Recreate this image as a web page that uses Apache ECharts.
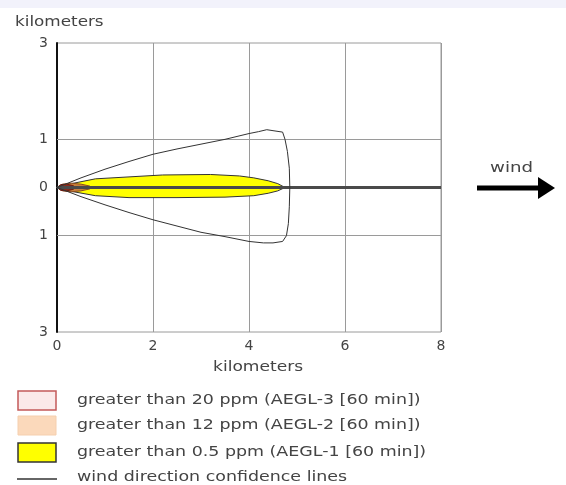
<!DOCTYPE html>
<html>
<head>
<meta charset="utf-8">
<script src="https://cdn.jsdelivr.net/npm/echarts@6/dist/echarts.min.js"></script>
<style>
html,body{margin:0;padding:0;background:#fff;}
#chart{width:566px;height:485px;}
</style>
</head>
<body>
<div id="chart"></div>
<script>
// ---- data (km) ----
var xTicks = [0, 2, 4, 6, 8];
var yTickLabels = {3: '3', 1: '1', 0: '0', '-1': '1', '-3': '3'};
var yGridValues = [1, -1];
var xAxisTitle = 'kilometers';
var yAxisTitle = 'kilometers';

// wind direction confidence lines (closed envelope)
var confidenceLine = [
  [0, 0], [0.5, 0.2], [1, 0.38], [1.5, 0.54], [2, 0.69], [2.5, 0.8], [3, 0.9],
  [3.5, 1.0], [4, 1.12], [4.2, 1.16], [4.37, 1.2], [4.5, 1.18], [4.7, 1.15],
  [4.75, 1.0], [4.8, 0.75], [4.84, 0.4], [4.85, 0], [4.84, -0.4], [4.82, -0.75],
  [4.78, -1.0], [4.7, -1.12], [4.5, -1.15], [4.3, -1.15], [4, -1.12],
  [3.5, -1.02], [3, -0.93], [2.5, -0.8], [2, -0.67], [1.5, -0.52],
  [1, -0.36], [0.5, -0.19], [0, 0]
];

// AEGL-1 zone (> 0.5 ppm)
var aegl1Zone = [
  [0, 0], [0.3, 0.08], [0.8, 0.18], [1.5, 0.22], [2.2, 0.26], [3.2, 0.27],
  [3.8, 0.24], [4.1, 0.2], [4.4, 0.14], [4.6, 0.08], [4.75, 0],
  [4.6, -0.07], [4.4, -0.12], [4.1, -0.17], [3.5, -0.2], [2.5, -0.21],
  [1.5, -0.21], [0.8, -0.17], [0.3, -0.08], [0, 0]
];
// AEGL-2 zone (> 12 ppm)
var aegl2Zone = [
  [0, 0], [0.12, 0.07], [0.3, 0.09], [0.5, 0.07], [0.68, 0.03], [0.72, 0],
  [0.68, -0.03], [0.5, -0.07], [0.3, -0.09], [0.12, -0.07], [0, 0]
];
// AEGL-3 zone (> 20 ppm)
var aegl3Zone = [
  [0, 0], [0.08, 0.06], [0.2, 0.07], [0.33, 0.04], [0.4, 0],
  [0.33, -0.04], [0.2, -0.07], [0.08, -0.06], [0, 0]
];
var windLine = [[0, 0], [8, 0]];

var legendItems = [
  'greater than 20 ppm (AEGL-3 [60 min])',
  'greater than 12 ppm (AEGL-2 [60 min])',
  'greater than 0.5 ppm (AEGL-1 [60 min])',
  'wind direction confidence lines'
];

function polygonSeries(name, pts, fill, stroke, lw) {
  return {
    type: 'custom',
    name: name,
    coordinateSystem: 'cartesian2d',
    data: [0],
    renderItem: function (params, api) {
      var p = pts.map(function (d) { return api.coord(d); });
      return {
        type: 'polygon',
        shape: { points: p },
        style: { fill: fill, stroke: stroke, lineWidth: lw }
      };
    },
    silent: true,
    z: 3
  };
}

function stretchedText(txt, x, y, size, sx, align) {
  return {
    type: 'text', x: x, y: y, scaleX: sx, scaleY: 1,
    style: { text: txt, font: size + 'px DejaVu Sans', fill: '#444', align: align || 'left', verticalAlign: 'middle' }
  };
}

var chart = echarts.init(document.getElementById('chart'));
var font = 'DejaVu Sans';
var option = {
  animation: false,
  backgroundColor: '#fff',
  grid: { left: 57, top: 43, width: 384, height: 289, show: true, borderColor: '#9a9a9a', borderWidth: 1, containLabel: false },
  xAxis: {
    type: 'value', min: 0, max: 8, interval: 2,
    axisLine: { show: true, lineStyle: { color: '#9a9a9a', width: 1 } },
    axisTick: { show: false },
    axisLabel: { fontFamily: font, fontSize: 14, color: '#444', margin: 7 },
    splitLine: { show: true, lineStyle: { color: '#9a9a9a', width: 1 } }
  },
  yAxis: {
    type: 'value', min: -3, max: 3, interval: 1,
    axisLine: { show: true, onZero: false, lineStyle: { color: '#111', width: 2 } },
    axisTick: { show: false },
    axisLabel: {
      fontFamily: font, fontSize: 14, color: '#444', margin: 9,
      formatter: function (v) { return yTickLabels[String(v)] !== undefined ? yTickLabels[String(v)] : ''; }
    },
    splitLine: { show: false }
  },
  series: [
    {
      type: 'line', name: 'grid', data: [], silent: true,
      markLine: {
        silent: true, symbol: 'none', label: { show: false },
        lineStyle: { color: '#9a9a9a', width: 1, type: 'solid' },
        data: yGridValues.map(function (v) { return { yAxis: v }; })
      }
    },
    polygonSeries('AEGL-1', aegl1Zone, '#ffff00', '#333', 1),
    polygonSeries('AEGL-2', aegl2Zone, '#c8803a', '#8a4a20', 1),
    polygonSeries('AEGL-3', aegl3Zone, '#8a2a1a', '#6a1a10', 1),
    {
      type: 'line', name: 'wind', data: windLine, showSymbol: false, silent: true,
      lineStyle: { color: '#4a4a4a', width: 3 }, z: 4
    },
    {
      type: 'line', name: 'confidence', data: confidenceLine, showSymbol: false, silent: true,
      lineStyle: { color: '#333', width: 1 }, z: 5
    }
  ],
  graphic: [
    { type: 'rect', x: 0, y: 0, shape: { width: 566, height: 8 }, style: { fill: '#f2f2fb' }, silent: true },
    stretchedText(yAxisTitle, 15, 22, 14, 1.2),
    stretchedText(xAxisTitle, 213, 367, 14, 1.22),
    { type: 'rect', x: 18, y: 391, shape: { width: 38, height: 19 }, style: { fill: '#fbe9e9', stroke: '#c35a5a', lineWidth: 1.5 } },
    { type: 'rect', x: 18, y: 416, shape: { width: 38, height: 19 }, style: { fill: '#fbd9bb', stroke: '#f5cfae', lineWidth: 1 } },
    { type: 'rect', x: 18, y: 443, shape: { width: 38, height: 19 }, style: { fill: '#ffff00', stroke: '#333', lineWidth: 1.5 } },
    { type: 'line', shape: { x1: 17, y1: 479, x2: 57, y2: 479 }, style: { stroke: '#333', lineWidth: 1.5 } },
    stretchedText(legendItems[0], 77, 400, 14, 1.245),
    stretchedText(legendItems[1], 77, 425, 14, 1.245),
    stretchedText(legendItems[2], 77, 452, 14, 1.245),
    stretchedText(legendItems[3], 77, 477, 14, 1.245),
    stretchedText('wind', 490, 168, 14, 1.3),
    { type: 'line', shape: { x1: 477, y1: 188, x2: 542, y2: 188 }, style: { stroke: '#000', lineWidth: 5 } },
    { type: 'polygon', shape: { points: [[538, 177], [555, 188], [538, 199]] }, style: { fill: '#000' } }
  ]
};
chart.setOption(option);
</script>
</body>
</html>
